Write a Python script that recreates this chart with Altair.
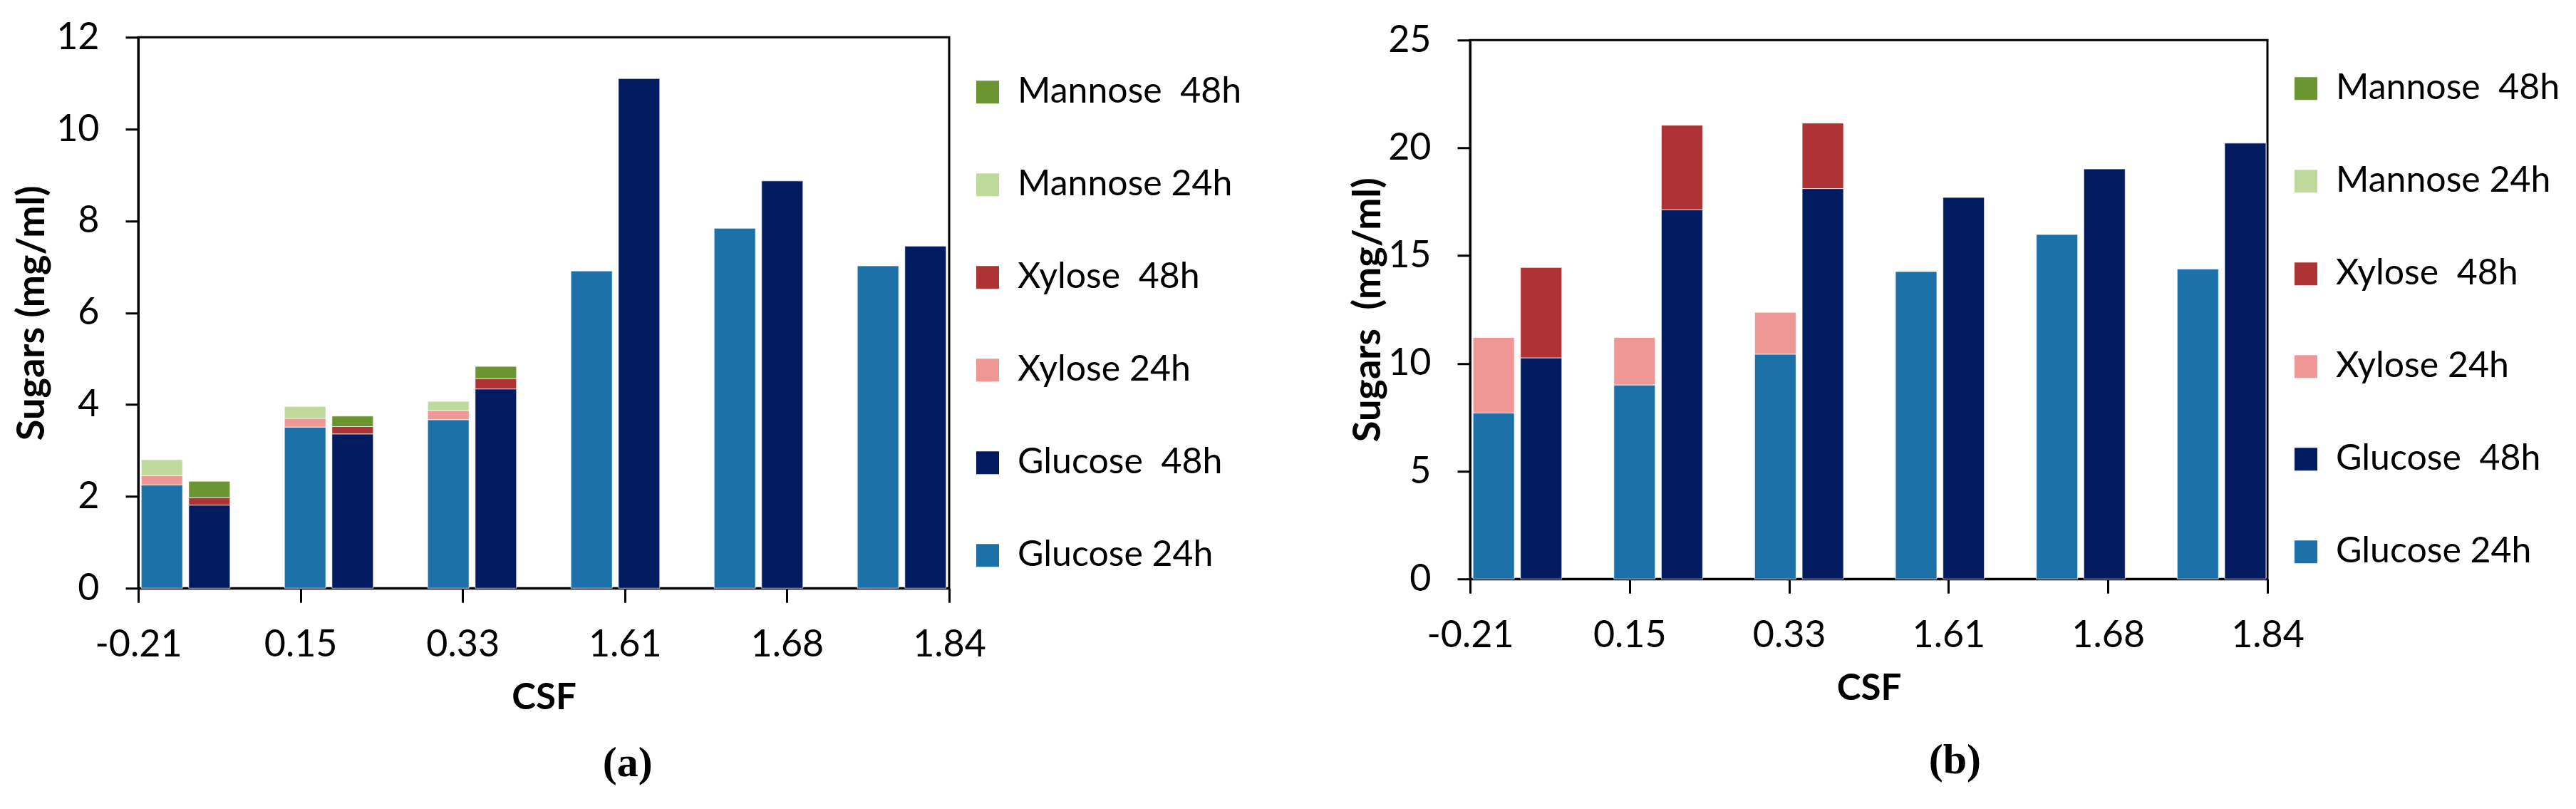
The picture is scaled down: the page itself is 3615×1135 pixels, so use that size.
import altair as alt
import pandas as pd

csf_labels = ["-0.21", "0.15", "0.33", "1.61", "1.68", "1.84"]
times = ["24h", "48h"]
sugars = ["Glucose", "Xylose", "Mannose"]
series_order = ["Mannose\u00a0 48h", "Mannose 24h", "Xylose\u00a0 48h", "Xylose 24h", "Glucose\u00a0 48h", "Glucose 24h"]
series_colors = ["#6a9531", "#c0da9e", "#ad3334", "#ef9794", "#021a5f", "#1b71a8"]

# Panel (a) values, mg/ml
a_glucose_24 = [2.25, 3.51, 3.67, 6.91, 7.84, 7.02]
a_xylose_24 = [0.20, 0.19, 0.20, 0.0, 0.0, 0.0]
a_mannose_24 = [0.35, 0.26, 0.20, 0.0, 0.0, 0.0]
a_glucose_48 = [1.81, 3.36, 4.34, 11.10, 8.87, 7.45]
a_xylose_48 = [0.16, 0.16, 0.22, 0.0, 0.0, 0.0]
a_mannose_48 = [0.36, 0.23, 0.27, 0.0, 0.0, 0.0]

# Panel (b) values, mg/ml
b_glucose_24 = [7.70, 9.00, 10.43, 14.26, 15.98, 14.38]
b_xylose_24 = [3.50, 2.20, 1.94, 0.0, 0.0, 0.0]
b_mannose_24 = [0.0, 0.0, 0.0, 0.0, 0.0, 0.0]
b_glucose_48 = [10.26, 17.13, 18.11, 17.70, 19.02, 20.22]
b_xylose_48 = [4.19, 3.92, 3.04, 0.0, 0.0, 0.0]
b_mannose_48 = [0.0, 0.0, 0.0, 0.0, 0.0, 0.0]

y_ticks_a = [0, 2, 4, 6, 8, 10, 12]
y_ticks_b = [0, 5, 10, 15, 20, 25]

FONT = "Lato"


def label_for(sugar, time):
    return f"{sugar} 24h" if time == "24h" else f"{sugar}\u00a0 48h"


def build_df(series):
    rows = []
    for (sugar, time), vals in series.items():
        for csf, v in zip(csf_labels, vals):
            if v > 0:
                rows.append({"csf": csf, "time": time, "sugar": sugar,
                             "rank": sugars.index(sugar), "series": label_for(sugar, time),
                             "value": v})
    return pd.DataFrame(rows)


df_a = build_df({("Glucose", "24h"): a_glucose_24, ("Xylose", "24h"): a_xylose_24,
                 ("Mannose", "24h"): a_mannose_24, ("Glucose", "48h"): a_glucose_48,
                 ("Xylose", "48h"): a_xylose_48, ("Mannose", "48h"): a_mannose_48})
df_b = build_df({("Glucose", "24h"): b_glucose_24, ("Xylose", "24h"): b_xylose_24,
                 ("Mannose", "24h"): b_mannose_24, ("Glucose", "48h"): b_glucose_48,
                 ("Xylose", "48h"): b_xylose_48, ("Mannose", "48h"): b_mannose_48})

tick_df = pd.DataFrame({"pos": list(range(len(csf_labels))), "label": csf_labels})
label_expr = "[" + ",".join(f"'{c}'" for c in csf_labels) + "][datum.value]"


def panel(df, ymax, yticks, ytitle, ytitle_pad, letter, letter_offset, width, height, legend_y):
    bars = alt.Chart(df).mark_bar(stroke="white", strokeWidth=1, strokeOpacity=0.7).encode(
        x=alt.X("csf:N", sort=csf_labels, axis=None,
                scale=alt.Scale(paddingInner=0.38, paddingOuter=0.021)),
        xOffset=alt.XOffset("time:N", sort=times,
                            scale=alt.Scale(paddingInner=0.13, paddingOuter=0)),
        y=alt.Y("value:Q", stack="zero",
                scale=alt.Scale(domain=[0, ymax], nice=False),
                axis=alt.Axis(values=yticks, title=ytitle, tickSize=18, labelPadding=37,
                              titlePadding=ytitle_pad, titleFontSize=54)),
        color=alt.Color("series:N",
                        scale=alt.Scale(domain=series_order, range=series_colors),
                        legend=alt.Legend(title=None, orient="none",
                                          legendX=width + 29, legendY=legend_y)),
        order=alt.Order("rank:Q"),
    )
    axis_layer = alt.Chart(tick_df).mark_tick(opacity=0).encode(
        x=alt.X("pos:Q", scale=alt.Scale(domain=[0, len(csf_labels) - 1], nice=False, zero=False),
                axis=alt.Axis(values=list(range(len(csf_labels))), labelExpr=label_expr,
                              title="CSF", tickSize=20, labelPadding=34, titlePadding=24,
                              titleFontSize=51, labelFlush=False))
    )
    return alt.layer(bars, axis_layer).resolve_scale(x="independent").properties(
        width=width, height=height,
        title=alt.TitleParams(letter, orient="bottom", anchor="middle", frame="bounds",
                              font="Liberation Serif", fontSize=60, fontWeight="bold",
                              offset=letter_offset, color="black"))


pa = panel(df_a, 12, y_ticks_a, "Sugars (mg/ml)", 6, "(a)", 38, 1138, 773, 52)
pb = panel(df_b, 25, y_ticks_b, "Sugars\u00a0 (mg/ml)", 0, "(b)", 47, 1119, 756, 43)

chart = alt.hconcat(pa, pb, spacing=147, center=True).resolve_scale(color="independent").properties(
    padding={"left": 9, "top": 16, "right": 0, "bottom": 0}
).configure_view(
    stroke="black", strokeWidth=3
).configure_axis(
    grid=False, domainColor="black", domainWidth=3, tickColor="black", tickWidth=3,
    labelFont=FONT, labelFontSize=52, labelColor="black",
    titleFont=FONT, titleFontSize=51, titleFontWeight="bold", titleColor="black",
).configure_legend(
    labelFont=FONT, labelFontSize=50, labelColor="black", labelLimit=0,
    symbolType="square", symbolSize=1024, symbolStrokeWidth=0, labelOffset=17,
    rowPadding=80, padding=0,
).configure_concat(spacing=147)

chart.save("out.html", embed_options={"renderer": "svg", "actions": False})
